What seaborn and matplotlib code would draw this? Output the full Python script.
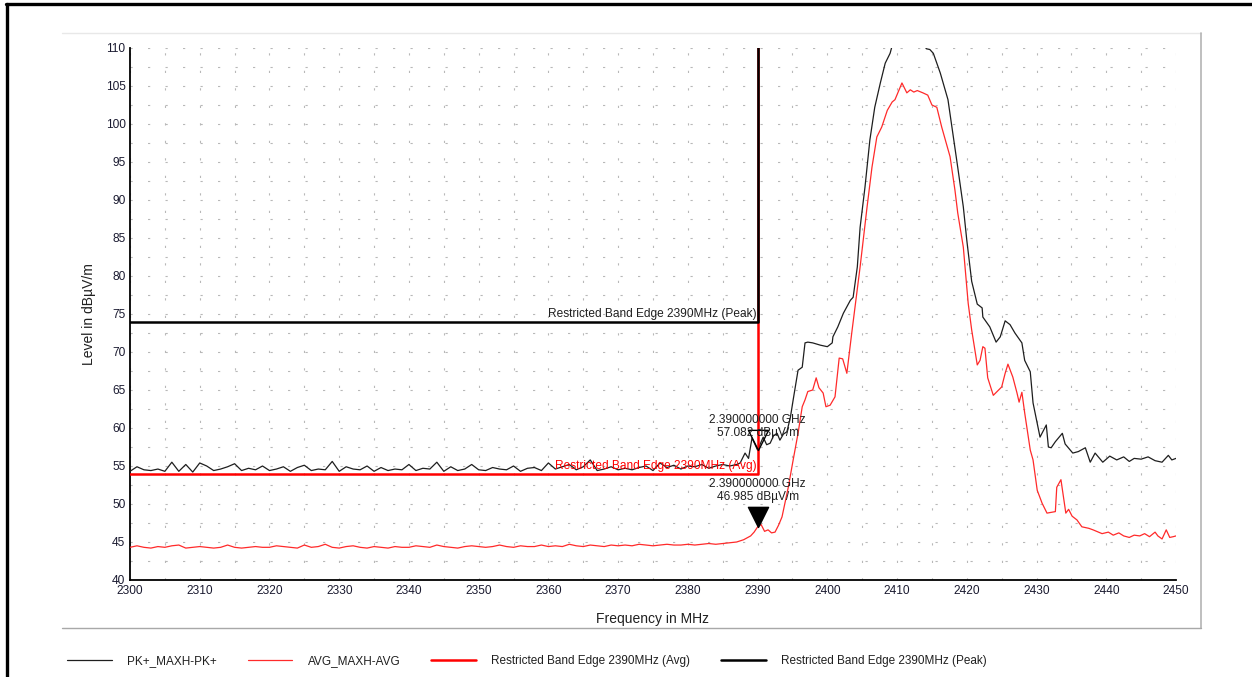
import numpy as np
import matplotlib
matplotlib.use("Agg")
import matplotlib.pyplot as plt
import seaborn as sns
import pandas as pd
from matplotlib.lines import Line2D
from matplotlib.path import Path
from matplotlib.ticker import MultipleLocator

# ---------------- data ----------------
noise_start = 2300  # MHz, 1 MHz steps for the flat part
peak_noise = [
    54.3, 54.9, 54.5, 54.4, 54.6, 54.3, 55.5, 54.3, 55.2, 54.2,
    55.4, 55.0, 54.4, 54.6, 54.9, 55.3, 54.4, 54.7, 54.5, 55.0,
    54.4, 54.6, 54.9, 54.3, 54.8, 55.1, 54.4, 54.6, 54.5, 55.6,
    54.3, 54.9, 54.6, 54.5, 55.0, 54.3, 54.8, 54.4, 54.6, 54.5,
    55.2, 54.4, 54.7, 54.6, 55.5, 54.3, 54.9, 54.4, 54.6, 55.2,
    54.5, 54.4, 54.8, 54.6, 54.5, 55.0, 54.3, 54.7, 54.8, 54.4,
    55.4, 54.6, 54.9, 55.2, 54.5, 54.9, 55.8, 54.4, 54.6, 54.9,
    54.5, 54.7, 54.5, 54.8, 55.0, 54.4, 55.4, 54.8, 55.1, 54.6,
    55.0, 54.9, 55.2, 54.7, 55.0, 55.2, 55.0,
]
avg_noise = [
    44.3, 44.5, 44.3, 44.2, 44.4, 44.3, 44.5, 44.6, 44.2, 44.3,
    44.4, 44.3, 44.2, 44.3, 44.6, 44.3, 44.2, 44.3, 44.4, 44.3,
    44.3, 44.5, 44.4, 44.3, 44.2, 44.6, 44.3, 44.4, 44.7, 44.3,
    44.2, 44.4, 44.5, 44.3, 44.2, 44.4, 44.3, 44.2, 44.4, 44.3,
    44.3, 44.5, 44.4, 44.3, 44.6, 44.4, 44.3, 44.2, 44.4, 44.5,
    44.4, 44.3, 44.4, 44.6, 44.4, 44.3, 44.5, 44.4, 44.4, 44.6,
    44.4, 44.5, 44.4, 44.7, 44.5, 44.4, 44.6, 44.5, 44.4, 44.6,
    44.5, 44.6, 44.5, 44.7, 44.6, 44.5, 44.6, 44.7, 44.6, 44.6,
    44.7, 44.6, 44.7, 44.8, 44.7, 44.8, 44.9,
]
peak_tail = [
    (2387.0, 55.2), (2387.5, 55.4), (2388.2, 56.7), (2388.7, 56.0), (2389.2, 58.7),
    (2390.0, 57.08), (2390.8, 58.8), (2391.3, 57.8), (2391.8, 58.0), (2392.3, 59.0),
    (2392.8, 59.3), (2393.2, 58.4), (2393.7, 59.2), (2394.2, 59.5), (2394.7, 61.4),
    (2395.1, 63.7), (2395.8, 67.6), (2396.4, 68.0), (2396.8, 71.2), (2397.2, 71.3),
    (2397.9, 71.2), (2399.0, 70.9), (2400.0, 70.7), (2400.7, 71.2), (2400.8, 72.0),
    (2401.5, 73.3), (2402.3, 75.1), (2403.3, 76.8), (2403.7, 77.2), (2404.3, 81.2),
    (2404.7, 86.4), (2405.4, 91.7), (2406.1, 97.9), (2406.8, 102.2), (2407.6, 105.4),
    (2408.3, 108.0), (2409.0, 109.3), (2409.5, 111.0), (2410.5, 112.5), (2412.0, 113.0),
    (2413.5, 111.0), (2414.2, 109.9), (2414.7, 109.8), (2415.2, 109.3), (2416.2, 106.7),
    (2417.3, 103.2), (2418.0, 98.8), (2418.7, 94.3), (2419.5, 89.1), (2420.0, 84.7),
    (2420.7, 79.3), (2421.5, 76.3), (2422.2, 75.8), (2422.3, 74.6), (2423.3, 73.3),
    (2424.2, 71.3), (2424.8, 72.0), (2425.5, 74.1), (2426.2, 73.6), (2426.9, 72.5),
    (2427.9, 71.2), (2428.3, 68.9), (2429.1, 67.4), (2429.5, 63.3), (2430.5, 58.8),
    (2431.4, 60.4), (2431.7, 57.5), (2432.1, 57.4), (2432.7, 58.2), (2433.7, 59.3),
    (2434.1, 57.9), (2435.2, 56.7), (2436.0, 56.9), (2437.0, 57.4), (2437.7, 55.5),
    (2438.4, 56.7), (2439.5, 55.5), (2440.5, 56.3), (2441.5, 55.8), (2442.5, 56.2),
    (2443.3, 55.6), (2444.0, 56.0), (2445.0, 55.9), (2446.0, 56.2), (2447.0, 55.7),
    (2448.0, 55.5), (2448.9, 56.4), (2449.4, 55.8), (2450.0, 56.0),
]
avg_tail = [
    (2387.0, 45.0), (2388.0, 45.3), (2389.0, 45.8), (2389.5, 46.3), (2390.0, 46.985),
    (2390.5, 47.3), (2391.0, 46.4), (2391.5, 46.6), (2392.0, 46.2), (2392.5, 46.3),
    (2393.0, 47.2), (2393.5, 48.3), (2394.4, 52.2), (2395.1, 55.8), (2395.8, 59.3),
    (2396.4, 62.8), (2396.8, 63.7), (2397.2, 64.8), (2397.9, 65.0), (2398.4, 66.6),
    (2398.8, 65.3), (2399.4, 64.6), (2399.8, 62.8), (2400.4, 63.0), (2401.1, 64.1),
    (2401.7, 69.2), (2402.2, 69.1), (2402.8, 67.2), (2403.5, 72.5), (2404.1, 76.8),
    (2404.7, 81.2), (2405.7, 89.1), (2406.4, 94.3), (2407.1, 98.3), (2407.8, 99.6),
    (2408.6, 101.8), (2409.3, 102.9), (2409.7, 103.2), (2410.7, 105.4), (2411.4, 104.1),
    (2411.9, 104.5), (2412.4, 104.2), (2412.9, 104.4), (2413.7, 104.1), (2414.4, 103.8),
    (2415.0, 102.5), (2415.7, 102.2), (2416.4, 99.6), (2417.2, 97.0), (2417.6, 95.7),
    (2418.3, 91.3), (2418.7, 88.3), (2419.5, 83.8), (2420.2, 76.4), (2420.7, 72.9),
    (2421.5, 68.3), (2421.9, 68.9), (2422.3, 70.7), (2422.6, 70.5), (2423.0, 66.6),
    (2423.8, 64.3), (2425.0, 65.4), (2425.5, 67.2), (2425.9, 68.4), (2426.6, 66.7),
    (2427.2, 64.6), (2427.5, 63.4), (2427.9, 64.7), (2428.3, 62.0), (2429.1, 57.1),
    (2429.5, 55.8), (2430.1, 51.8), (2430.8, 50.1), (2431.5, 48.8), (2432.7, 49.0),
    (2432.9, 52.2), (2433.5, 53.2), (2434.2, 48.8), (2434.6, 49.3), (2435.1, 48.4),
    (2435.8, 47.9), (2436.5, 47.0), (2437.5, 46.8), (2438.1, 46.6), (2439.4, 46.1),
    (2440.3, 46.3), (2441.0, 45.9), (2441.8, 46.2), (2442.5, 45.8), (2443.3, 45.6),
    (2444.0, 45.9), (2444.8, 45.8), (2445.5, 46.1), (2446.2, 45.7), (2447.0, 46.3),
    (2447.4, 45.8), (2448.0, 45.4), (2448.6, 46.6), (2449.1, 45.6), (2449.6, 45.7),
    (2450.0, 45.8),
]
limit_freq = [2300, 2390, 2390]
peak_limit = [74, 74, 120]
avg_limit = [54, 54, 120]
marker_freq = 2390.0
marker_peak = 57.082
marker_avg = 46.985
x_ticks = list(range(2300, 2451, 10))
y_ticks = list(range(40, 111, 5))
series_names = ["PK+_MAXH-PK+", "AVG_MAXH-AVG",
                "Restricted Band Edge 2390MHz (Avg)", "Restricted Band Edge 2390MHz (Peak)"]

# ---------------- assemble ----------------
peak_f = list(np.arange(noise_start, noise_start + len(peak_noise), 1.0)) + [p[0] for p in peak_tail]
peak_v = peak_noise + [p[1] for p in peak_tail]
avg_f = list(np.arange(noise_start, noise_start + len(avg_noise), 1.0)) + [p[0] for p in avg_tail]
avg_v = avg_noise + [p[1] for p in avg_tail]
df_peak = pd.DataFrame({"f": peak_f, "v": peak_v})
df_avg = pd.DataFrame({"f": avg_f, "v": avg_v})

sns.set_theme(style="white")
plt.rcParams["font.family"] = ["Liberation Sans", "DejaVu Sans"]
plt.rcParams["lines.scale_dashes"] = False

W, H = 1252, 677
fig = plt.figure(figsize=(W / 100, H / 100), dpi=100)
ax = fig.add_axes([130 / W, 1 - 580 / H, 1046 / W, 532 / H])

trace_black = "#1e1e1e"
trace_red = "#ff2a2a"

sns.lineplot(data=df_peak, x="f", y="v", ax=ax, color=trace_black, lw=0.9,
             estimator=None, sort=False, label=series_names[0], zorder=3)
sns.lineplot(data=df_avg, x="f", y="v", ax=ax, color=trace_red, lw=0.9,
             estimator=None, sort=False, label=series_names[1], zorder=3)
sns.lineplot(x=limit_freq, y=avg_limit, ax=ax, color="#ff0000", lw=1.8,
             estimator=None, sort=False, label=series_names[2], zorder=4)
sns.lineplot(x=limit_freq, y=peak_limit, ax=ax, color="#000000", lw=1.8,
             estimator=None, sort=False, label=series_names[3], zorder=5)

ax.set_xlim(2300, 2450)
ax.set_ylim(40, 110)
ax.set_xticks(x_ticks)
ax.set_yticks(y_ticks)
ax.xaxis.set_minor_locator(MultipleLocator(5))
ax.yaxis.set_minor_locator(MultipleLocator(2.5))
ax.tick_params(axis="both", which="both", direction="inout", length=4.5, width=1,
               color="black", labelsize=8.6, labelcolor="#1a1a30")
ax.tick_params(axis="x", which="major", pad=1.5)
ax.tick_params(axis="y", which="major", pad=1)
ax.grid(which="both", axis="both", color="#b8b8b8", lw=0.8,
        linestyle=(0, (1.6, 11.0)), zorder=0)
ax.set_axisbelow(True)
for s in ["top", "right"]:
    ax.spines[s].set_visible(False)
for s in ["left", "bottom"]:
    ax.spines[s].set_color("black")
    ax.spines[s].set_linewidth(1.3)

ax.set_xlabel("Frequency in MHz", fontsize=10, color="#202020", labelpad=11)
ax.set_ylabel("Level in dBµV/m", fontsize=10, color="#202020", labelpad=7)

# limit labels
ax.annotate(series_names[3], xy=(limit_freq[1], peak_limit[1]), xytext=(-1, 1.5),
            textcoords="offset points", ha="right", va="bottom", fontsize=8.6,
            color="#202020", zorder=6)
ax.annotate(series_names[2], xy=(limit_freq[1], avg_limit[1]), xytext=(-1, 1.5),
            textcoords="offset points", ha="right", va="bottom", fontsize=8.6,
            color="#ff0000", zorder=6)

# markers (tip of triangle at the data point)
tri = Path([(-0.5, 1.0), (0.5, 1.0), (0.0, 0.0), (-0.5, 1.0)],
           [Path.MOVETO, Path.LINETO, Path.LINETO, Path.CLOSEPOLY])
ax.plot([marker_freq], [marker_peak], marker=tri, ms=29, mfc="none", mec="black",
        mew=1.0, ls="none", zorder=7)
ax.plot([marker_freq], [marker_avg], marker=tri, ms=29, mfc="black", mec="black",
        ls="none", zorder=7)
ax.annotate(f"{marker_freq / 1000:.9f} GHz\n{marker_peak:.3f} dBµV/m",
            xy=(marker_freq, marker_peak), xytext=(0, 8), textcoords="offset points",
            ha="center", va="bottom", fontsize=8.6, color="#202020",
            linespacing=1.15, zorder=8)
ax.annotate(f"{marker_freq / 1000:.9f} GHz\n{marker_avg:.3f} dBµV/m",
            xy=(marker_freq, marker_avg), xytext=(0, 17), textcoords="offset points",
            ha="center", va="bottom", fontsize=8.6, color="#202020",
            linespacing=1.15, zorder=8)

# legend at the bottom
handles, labels = ax.get_legend_handles_labels()
if ax.get_legend() is not None:
    ax.get_legend().remove()
fig.legend(handles, labels, loc="center", bbox_to_anchor=(527 / W, 1 - 661 / H),
           ncol=4, frameon=False, fontsize=8.5, handlelength=3.8, handletextpad=1.3,
           columnspacing=2.6, labelcolor="#202020")

# outer frame and panel lines
fig.add_artist(Line2D([7 / W, 7 / W], [0, 1 - 4 / H], color="black", lw=2.4))
fig.add_artist(Line2D([6 / W, 1], [1 - 4 / H, 1 - 4 / H], color="black", lw=2.4))
fig.add_artist(Line2D([62 / W, 1201 / W], [1 - 33 / H, 1 - 33 / H], color="#e8e8e8", lw=1))
fig.add_artist(Line2D([1201 / W, 1201 / W], [1 - 33 / H, 1 - 628 / H], color="#b4b4b4", lw=1.2))
fig.add_artist(Line2D([62 / W, 1201 / W], [1 - 628 / H, 1 - 628 / H], color="#a8a8a8", lw=1))

fig.savefig("out.png", dpi=100, facecolor="white")
